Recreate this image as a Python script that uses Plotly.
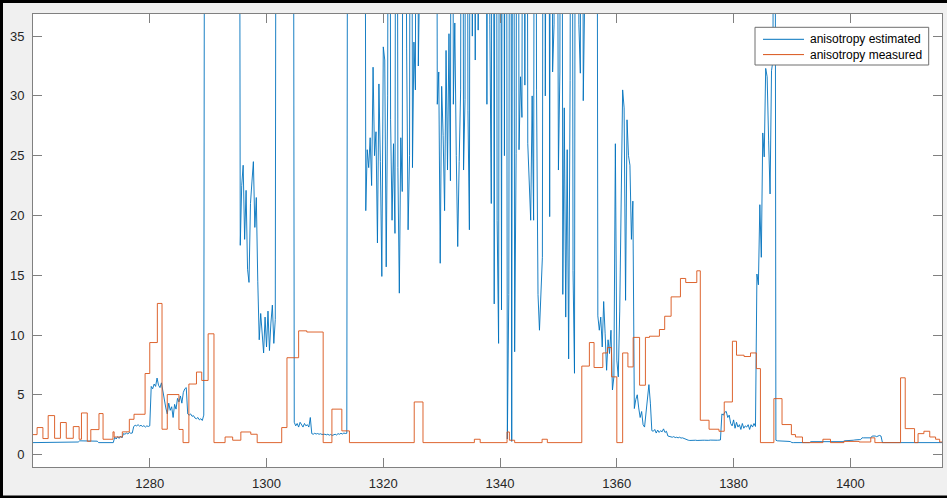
import numpy as np
import plotly.graph_objects as go

# ---------------- data ----------------
# anisotropy estimated: sampled every 0.25 from 1260 (values above the axis top run off-chart)
sample_start = 1260.0
sample_step = 0.25
estimated = [
    1.0, 1.0, 1.0, 1.0, 1.0, 1.0, 1.0, 1.0, 1.0, 1.0, 1.0, 1.0, 1.0, 1.0, 1.0, 1.0, 1.0, 1.0, 1.0, 1.0,
    1.05, 1.05, 1.05, 1.05, 1.05, 1.05, 1.05, 1.05, 1.05, 1.05, 1.05, 1.05, 1.15, 1.15, 1.15, 1.15, 1.15, 1.15, 1.15, 1.15,
    1.15, 1.15, 1.15, 1.15, 1.12, 1.0, 1.0, 1.0, 1.0, 1.0, 1.0, 1.0, 1.0, 1.0, 1.0, 1.0, 1.45, 1.3, 1.5, 1.35,
    1.55, 1.4, 1.75, 1.7, 1.8, 1.72, 1.85, 1.78, 1.8, 2.35, 2.45, 2.4, 2.5, 2.38, 2.45, 2.35, 2.42, 2.3, 2.4, 2.35,
    2.4, 5.7, 5.5, 5.9, 5.7, 6.4, 5.8, 5.6, 6.0, 5.2, 4.6, 3.9, 3.4, 4.3, 3.7, 4.0, 3.1, 4.2, 3.8, 4.7,
    4.4, 4.9, 4.3, 5.2, 5.5, 5.6, 3.4, 3.3, 3.4, 3.2, 3.25, 3.05, 3.0, 3.1, 2.9, 3.0, 2.85, 3.3, 100, 100,
    100, 100, 100, 100, 100, 100, 100, 100, 100, 100, 100, 100, 100, 100, 100, 100, 100, 100, 100, 100,
    100, 100, 17.5, 22.5, 24.2, 18.0, 22.1, 15.5, 14.4, 21.0, 22.8, 24.5, 19.0, 21.5, 14.5, 9.6, 11.8, 10.0, 8.5, 11.5,
    9.0, 12.0, 8.7, 11.0, 12.5, 9.3, 11.3, 100, 100, 100, 100, 100, 100, 100, 100, 100, 100, 100, 100, 2.7,
    2.4, 2.6, 2.3, 2.7, 2.5, 2.3, 2.6, 2.4, 2.5, 2.3, 3.1, 1.75, 1.7, 1.78, 1.72, 1.76, 1.7, 1.74, 1.68, 1.72,
    1.7, 1.65, 1.7, 1.62, 1.68, 1.6, 1.66, 1.7, 1.64, 1.75, 1.7, 1.78, 1.72, 1.8, 1.76, 1.78, 100, 100, 100, 100,
    100, 100, 100, 100, 100, 100, 100, 100, 20.4, 25.5, 24.0, 26.5, 22.5, 32.4, 25.0, 27.0, 17.7, 31.0, 24.5, 14.9,
    34.1, 33.0, 15.7, 30.0, 100, 28.0, 19.6, 26.0, 18.5, 100, 24.0, 13.5, 26.5, 22.0, 100, 100, 34.0, 18.8, 25.0, 100,
    24.0, 34.5, 30.5, 100, 32.5, 100, 100, 100, 100, 100, 100, 100, 100, 100, 100, 100, 100, 29.3, 32.0, 16.0,
    30.8, 26.7, 20.4, 33.8, 23.8, 35.2, 22.9, 100, 29.3, 36.1, 25.0, 17.4, 24.5, 30.5, 100, 23.8, 29.7, 100, 28.8, 18.8,
    100, 35.0, 100, 33.0, 100, 35.5, 100, 100, 100, 100, 100, 29.3, 100, 36.0, 21.0, 100, 12.6, 100, 19.6, 9.3,
    100, 12.1, 100, 25.0, 100, 1.3, 13.4, 100, 1.1, 100, 8.6, 25.2, 100, 25.5, 31.6, 28.2, 100, 30.9, 100, 26.0,
    22.4, 19.6, 30.0, 19.6, 100, 30.5, 13.4, 10.4, 13.5, 16.5, 100, 30.0, 100, 100, 19.9, 100, 32.0, 36.0, 100, 100,
    23.8, 32.0, 100, 13.4, 29.0, 11.5, 25.5, 8.0, 31.3, 100, 15.4, 6.8, 100, 100, 36.0, 31.9, 100, 29.6, 100, 100,
    100, 100, 100, 100, 100, 100, 100, 11.6, 10.4, 11.5, 9.0, 12.8, 10.1, 7.05, 9.6, 8.45, 10.4, 5.4, 6.5, 26.0,
    7.9, 6.5, 12.0, 22.4, 30.5, 29.0, 12.9, 28.0, 25.0, 24.2, 18.0, 21.2, 3.85, 4.6, 5.0, 3.9, 3.1, 3.6, 2.5, 2.3,
    3.7, 4.8, 5.85, 4.3, 2.0, 1.95, 2.1, 1.8, 2.05, 1.85, 2.0, 1.9, 2.15, 1.85, 1.95, 1.55, 1.5, 1.48, 1.45, 1.5,
    1.42, 1.45, 1.4, 1.45, 1.38, 1.4, 1.35, 1.25, 1.22, 1.2, 1.18, 1.2, 1.22, 1.19, 1.2, 1.18, 1.2, 1.21, 1.19, 1.2,
    1.2, 1.18, 1.2, 1.19, 1.21, 1.2, 1.18, 1.2, 1.19, 1.2, 1.21, 1.22, 3.4, 3.3, 3.55, 3.6, 3.1, 3.3, 2.6, 2.4,
    2.9, 2.2, 2.7, 2.3, 2.5, 2.1, 2.6, 2.2, 2.4, 2.3, 2.5, 2.1, 2.5, 2.3, 2.6, 2.35, 15.1, 14.2, 20.9, 16.5,
    26.9, 24.9, 32.3, 31.6, 26.3, 21.8, 32.1, 33.0, 100, 1.2, 1.15, 1.15, 1.12, 1.15, 1.12, 1.1, 1.12, 1.1, 1.1, 1.08,
    1.0, 1.0, 1.0, 1.0, 1.0, 1.0, 1.0, 1.0, 1.0, 1.0, 1.0, 1.0, 1.0, 1.08, 1.08, 1.08, 1.08, 1.08, 1.08, 1.08,
    1.08, 1.08, 1.08, 1.08, 1.08, 1.08, 1.08, 1.08, 1.08, 1.08, 1.08, 1.08, 1.08, 1.08, 1.08, 1.08, 1.15, 1.15, 1.15, 1.15,
    1.18, 1.2, 1.2, 1.22, 1.25, 1.25, 1.25, 1.25, 1.4, 1.4, 1.4, 1.4, 1.4, 1.4, 1.4, 1.55, 1.58, 1.55, 1.5, 1.52,
    1.6, 1.55, 1.0, 1.0, 1.0, 1.0, 1.0, 1.0, 1.0, 1.0, 1.0, 1.0, 1.0, 1.0, 1.0, 1.0, 1.0, 1.0, 1.0, 1.0,
    1.0, 1.0, 1.0, 1.0, 1.0, 1.0, 1.0, 1.0, 1.0, 1.0, 1.0, 1.0, 1.0, 1.0, 1.0, 1.0, 1.0, 1.0, 1.0, 1.0,
    1.0, 1.0, 1.0, 1.0,
]

# anisotropy measured: step function (value holds from each x until the next)
measured_x = [1260.0, 1260.7, 1261.7, 1262.6, 1263.7, 1264.7, 1265.7, 1266.9, 1267.9, 1268.3,
              1269.3, 1269.9, 1271.3, 1272.0, 1273.7, 1273.9, 1275.3, 1276.5, 1277.3, 1279.2,
              1280.0, 1281.3, 1282.1, 1283.0, 1285.0, 1285.7, 1286.7, 1288.0, 1288.9, 1290.0,
              1291.0, 1292.9, 1294.2, 1295.6, 1297.3, 1298.4, 1302.6, 1303.5, 1305.5, 1306.9,
              1309.7, 1311.2, 1312.9, 1314.2, 1325.3, 1326.8, 1335.6, 1336.6, 1341.2, 1341.6,
              1342.5, 1347.2, 1348.1, 1354.0, 1355.3, 1356.1, 1357.6, 1358.4, 1359.1, 1360.0,
              1361.0, 1361.9, 1362.8, 1363.9, 1364.9, 1365.6, 1367.3, 1368.2, 1369.3, 1370.9,
              1371.8, 1373.7, 1374.3, 1375.8, 1377.5, 1378.4, 1379.8, 1380.5, 1381.8, 1382.9,
              1383.9, 1384.6, 1386.9, 1388.3, 1389.9, 1390.6, 1391.8, 1395.3, 1396.6, 1398.9,
              1401.5, 1403.5, 1404.2, 1408.6, 1409.4, 1411.0, 1411.6, 1412.6, 1413.6, 1414.6,
              1415.3, 1415.7]
measured_y = [1.67, 2.26, 1.34, 3.26, 1.36, 2.68, 1.36, 2.34, 1.28, 3.48,
              1.11, 2.09, 3.43, 1.28, 1.9, 1.47, 1.9, 2.95, 3.37, 6.78,
              9.37, 12.64, 2.12, 5.02, 2.1, 1.0, 5.9, 6.9, 6.2, 10.1,
              1.0, 1.47, 1.2, 1.89, 1.7, 1.0, 2.26, 8.1, 10.35, 10.25,
              1.0, 3.8, 1.98, 1.0, 4.4, 1.0, 1.28, 1.0, 1.89, 1.2,
              1.0, 1.28, 1.0, 7.4, 9.37, 7.28, 8.5, 8.95, 6.5, 1.0,
              8.5, 7.33, 9.8, 5.8, 9.8, 9.9, 10.46, 11.57, 13.19, 14.73,
              14.39, 15.37, 2.87, 2.12, 1.95, 4.4, 9.48, 8.31, 8.2, 8.5,
              7.19, 1.0, 4.68, 2.51, 1.67, 1.47, 1.0, 1.28, 1.0, 1.1,
              1.05, 1.4, 1.0, 6.42, 2.17, 1.0, 1.75, 1.95, 1.47, 1.28,
              1.05, 1.05]

x_ticks = [1280, 1300, 1320, 1340, 1360, 1380, 1400]
y_ticks = [0, 5, 10, 15, 20, 25, 30, 35]
series_names = ["anisotropy estimated", "anisotropy measured"]
series_colors = ["#0072BD", "#D95319"]

# ---------------- figure ----------------
estimated_x = sample_start + sample_step * np.arange(len(estimated))

W, H = 947, 498
ML, MR, MT, MB = 33, 5, 14, 31
PW, PH = W - ML - MR, H - MT - MB


def px(xp):
    return (xp - ML) / PW


def py(yp):
    return (H - MB - yp) / PH


FONT = "Liberation Sans, Arial, Helvetica, sans-serif"
AXC = "#808080"

fig = go.Figure()
fig.add_trace(go.Scatter(x=estimated_x, y=estimated, mode="lines", name=series_names[0],
                         line=dict(color=series_colors[0], width=0.9)))
fig.add_trace(go.Scatter(x=measured_x, y=measured_y, mode="lines", name=series_names[1],
                         line=dict(color=series_colors[1], width=0.9, shape="hv")))

axis_common = dict(showgrid=False, zeroline=False, showline=True, linecolor=AXC, linewidth=1,
                   mirror="ticks", ticks="inside", ticklen=9, tickwidth=1, tickcolor=AXC,
                   tickfont=dict(family=FONT, size=13, color="#262626"))
fig.update_xaxes(range=[1260, 1415.7], tickvals=x_ticks, ticklabelstandoff=4, **axis_common)
fig.update_yaxes(range=[-1.04, 36.85], tickvals=y_ticks, ticklabelstandoff=5, **axis_common)

shapes = []
# black screenshot frame on top, left and bottom edges
for (x0, x1, y0, y1) in [(0, W, 0, 3), (0, 3, 0, H), (0, W, H - 2.5, H)]:
    shapes.append(dict(type="rect", xref="paper", yref="paper", x0=px(x0), x1=px(x1),
                       y0=py(y1), y1=py(y0), fillcolor="black", line=dict(width=0), layer="above"))

# legend box (drawn as MATLAB-style legend)
LB = dict(left=755, right=928.7, top=27.3, bottom=65)
shapes.append(dict(type="rect", xref="paper", yref="paper", x0=px(LB["left"]), x1=px(LB["right"]),
                   y0=py(LB["bottom"]), y1=py(LB["top"]), fillcolor="white",
                   line=dict(color="#6e6e6e", width=1), layer="above"))
annotations = []
for i, (name, col) in enumerate(zip(series_names, series_colors)):
    yc = 39.3 + 15.3 * i
    shapes.append(dict(type="line", xref="paper", yref="paper", x0=px(763), x1=px(804),
                       y0=py(yc), y1=py(yc), line=dict(color=col, width=1), layer="above"))
    annotations.append(dict(xref="paper", yref="paper", x=px(808), y=py(yc), text=name,
                            showarrow=False, xanchor="left", yanchor="middle",
                            font=dict(family=FONT, size=12, color="#000000")))

fig.update_layout(
    width=W, height=H,
    margin=dict(l=ML, r=MR, t=MT, b=MB, pad=0),
    paper_bgcolor="#f0f0f0", plot_bgcolor="white",
    showlegend=False,
    shapes=shapes,
    annotations=annotations,
    hovermode=False,
)

fig.write_html("out.html")
